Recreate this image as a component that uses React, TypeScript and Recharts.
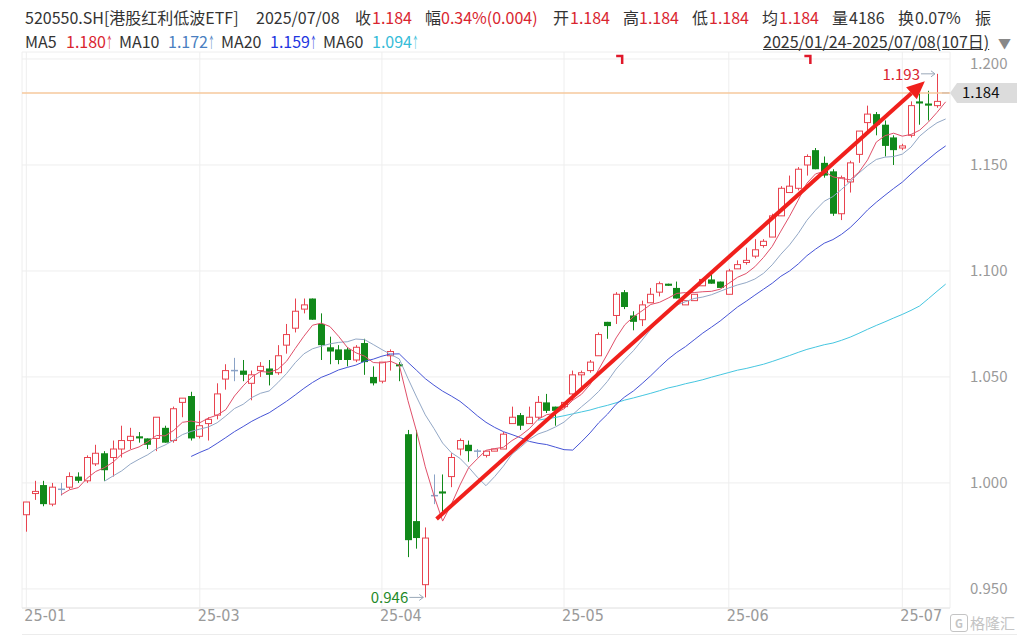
import React from "react";
import {
  ComposedChart,
  Bar,
  Line,
  XAxis,
  YAxis,
  CartesianGrid,
  ReferenceLine,
  ReferenceDot,
} from "recharts";

// 2025/01/24 - 2025/07/08, 107 trading days
const opens = [
  0.985, 0.995, 0.999, 0.99, 0.997, 0.998, 1.003, 1.001, 1.009, 1.014,
  1.012, 1.016, 1.02, 1.022, 1.021, 1.021, 1.026, 1.02, 1.038, 1.041,
  1.022, 1.028, 1.032, 1.049, 1.053, 1.053, 1.047, 1.053, 1.054, 1.052,
  1.065, 1.073, 1.082, 1.087, 1.075, 1.064, 1.063, 1.063, 1.058, 1.066,
  1.05, 1.048, 1.06, 1.056, 1.023, 0.982, 0.952, 0.994, 0.996, 1.003,
  1.016, 1.018, 1.015, 1.013, 1.015, 1.016, 1.028, 1.032, 1.028, 1.031,
  1.038, 1.036, 1.036, 1.042, 1.051, 1.053, 1.06, 1.076, 1.079, 1.09,
  1.079, 1.077, 1.085, 1.09, 1.094, 1.092, 1.084, 1.086, 1.093, 1.096,
  1.095, 1.089, 1.101, 1.104, 1.107, 1.112, 1.116, 1.126, 1.137, 1.139,
  1.15, 1.157, 1.151, 1.147, 1.127, 1.142, 1.155, 1.17, 1.174, 1.169,
  1.163, 1.158, 1.164, 1.18, 1.179, 1.178, 1.184,
];
const highs = [
  0.991, 1.001, 1.001, 1.0, 1.0, 1.005, 1.005, 1.013, 1.018, 1.015,
  1.02, 1.027, 1.026, 1.024, 1.021, 1.031, 1.027, 1.036, 1.04, 1.043,
  1.034, 1.031, 1.047, 1.056, 1.059, 1.058, 1.053, 1.057, 1.058, 1.065,
  1.075, 1.087, 1.087, 1.087, 1.08, 1.069, 1.065, 1.064, 1.065, 1.068,
  1.055, 1.057, 1.063, 1.057, 1.025, 1.025, 0.979, 1.004, 1.004, 1.014,
  1.021, 1.02, 1.016, 1.015, 1.016, 1.024, 1.036, 1.033, 1.036, 1.041,
  1.042, 1.036, 1.038, 1.053, 1.053, 1.058, 1.071, 1.076, 1.09, 1.091,
  1.081, 1.086, 1.092, 1.095, 1.094, 1.095, 1.086, 1.089, 1.096, 1.1,
  1.095, 1.101, 1.105, 1.111, 1.115, 1.115, 1.127, 1.14, 1.145, 1.149,
  1.155, 1.158, 1.154, 1.148, 1.145, 1.152, 1.166, 1.178, 1.175, 1.171,
  1.164, 1.16, 1.18, 1.184, 1.185, 1.193, 1.184,
];
const lows = [
  0.977, 0.992, 0.989, 0.989, 0.994, 0.997, 1.0, 1.0, 1.008, 1.001,
  1.003, 1.012, 1.016, 1.019, 1.016, 1.015, 1.019, 1.019, 1.031, 1.02,
  1.021, 1.02, 1.03, 1.044, 1.048, 1.048, 1.039, 1.05, 1.046, 1.051,
  1.061, 1.071, 1.08, 1.077, 1.058, 1.056, 1.056, 1.055, 1.057, 1.051,
  1.046, 1.047, 1.053, 1.048, 0.965, 0.969, 0.946, 0.99, 0.986, 0.998,
  1.013, 1.01, 1.012, 1.012, 1.015, 1.016, 1.028, 1.025, 1.028, 1.03,
  1.033, 1.027, 1.035, 1.039, 1.044, 1.052, 1.06, 1.068, 1.075, 1.082,
  1.072, 1.074, 1.085, 1.088, 1.093, 1.087, 1.084, 1.086, 1.093, 1.094,
  1.092, 1.089, 1.101, 1.103, 1.106, 1.111, 1.116, 1.126, 1.137, 1.138,
  1.145, 1.148, 1.144, 1.126, 1.124, 1.137, 1.151, 1.166, 1.164, 1.154,
  1.15, 1.157, 1.163, 1.169, 1.171, 1.177, 1.184,
];
const closes = [
  0.991, 0.996, 0.99, 0.998, 0.997, 1.003, 1.001, 1.012, 1.014, 1.006,
  1.016, 1.02, 1.022, 1.021, 1.018, 1.031, 1.019, 1.035, 1.04, 1.021,
  1.027, 1.03, 1.042, 1.053, 1.053, 1.051, 1.051, 1.055, 1.051, 1.06,
  1.07, 1.081, 1.084, 1.077, 1.065, 1.062, 1.058, 1.058, 1.064, 1.057,
  1.047, 1.057, 1.062, 1.055, 0.973, 0.974, 0.974, 0.994, 0.995, 1.012,
  1.02, 1.015, 1.015, 1.015, 1.016, 1.023, 1.031, 1.027, 1.031, 1.038,
  1.034, 1.034, 1.038, 1.051, 1.052, 1.057, 1.07, 1.074, 1.089, 1.083,
  1.076, 1.084, 1.089, 1.094, 1.093, 1.087, 1.086, 1.089, 1.096, 1.094,
  1.092, 1.1, 1.103, 1.105, 1.11, 1.114, 1.126, 1.139, 1.14, 1.148,
  1.154, 1.148, 1.145, 1.127, 1.144, 1.151, 1.166, 1.174, 1.169, 1.159,
  1.157, 1.159, 1.178, 1.179, 1.178, 1.18, 1.184,
];

const monthTicks = [0, 20, 41, 62, 81, 101];
const monthLabels = ["25-01", "25-03", "25-04", "25-05", "25-06", "25-07"];
const priceTicks = [0.95, 1.0, 1.05, 1.1, 1.15, 1.2];
const lastPrice = 1.184;
const highPoint = { i: 105, p: 1.193 };
const lowPoint = { i: 46, p: 0.946 };
const eventMarks = [68.7, 90.4];
const trendFrom = { i: 47.3, p: 0.983 };
const trendTo = { i: 103.6, p: 1.1895 };

const RED = "#e8434f";
const GREEN = "#11891a";
const FLAT = "#8aa2c6";

function movingAvg(n: number) {
  return closes.map((_, i) => {
    if (i < n - 1) return null;
    let s = 0;
    for (let k = i - n + 1; k <= i; k++) s += closes[k];
    return +(s / n).toFixed(4);
  });
}

const ma5 = movingAvg(5);
const ma10 = movingAvg(10);
const ma20 = movingAvg(20);
const ma60 = movingAvg(60);

const data = closes.map((c, i) => ({
  i,
  o: opens[i],
  h: highs[i],
  l: lows[i],
  c,
  range: [lows[i], highs[i]],
  ma5: ma5[i],
  ma10: ma10[i],
  ma20: ma20[i],
  ma60: ma60[i],
}));

function Candle(props: any) {
  const { x, width, payload } = props;
  let { y, height } = props;
  if (height < 0) {
    y = y + height;
    height = -height;
  }
  const { o, h, l, c } = payload;
  const span = h - l;
  const toY = (v: number) => (span > 0 ? y + ((h - v) / span) * height : y);
  const left = Math.round(x + width / 2 - 3.5);
  const mid = left + 3.5;
  const color = c > o ? RED : c < o ? GREEN : FLAT;
  const top = toY(Math.max(o, c));
  const bot = toY(Math.min(o, c));
  const wick = (
    <line x1={mid} x2={mid} y1={toY(h)} y2={toY(l)} stroke={color} strokeWidth={1} />
  );
  if (c === o) {
    return (
      <g>
        {wick}
        <line x1={left} x2={left + 7} y1={top} y2={top} stroke={color} strokeWidth={1.5} />
      </g>
    );
  }
  if (c > o) {
    return (
      <g>
        {wick}
        <rect
          x={left + 0.5}
          y={top}
          width={6}
          height={Math.max(bot - top, 1)}
          fill="#fff"
          stroke={color}
          strokeWidth={1}
        />
      </g>
    );
  }
  return (
    <g>
      {wick}
      <rect x={left} y={top} width={7} height={Math.max(bot - top, 1.5)} fill={color} />
    </g>
  );
}

function TrendArrow(props: any) {
  const { x1, y1, x2, y2 } = props;
  const ang = Math.atan2(y2 - y1, x2 - x1);
  const len = 18;
  const half = 8;
  const bx = x2 - len * Math.cos(ang);
  const by = y2 - len * Math.sin(ang);
  const px = -Math.sin(ang) * half;
  const py = Math.cos(ang) * half;
  return (
    <g>
      <line x1={x1} y1={y1} x2={bx} y2={by} stroke="#f0201c" strokeWidth={4} />
      <polygon
        points={`${x2},${y2} ${bx + px},${by + py} ${bx - px},${by - py}`}
        fill="#f0201c"
      />
    </g>
  );
}

function ExtremeTag(color: string, text: string) {
  return (props: any) => {
    const { cx, cy } = props;
    return (
      <g>
        <line x1={cx - 16} x2={cx - 2} y1={cy} y2={cy} stroke="#9aa8b8" strokeWidth={1} />
        <polyline
          points={`${cx - 6},${cy - 3} ${cx - 2},${cy} ${cx - 6},${cy + 3}`}
          fill="none"
          stroke="#9aa8b8"
          strokeWidth={1}
        />
        <text x={cx - 17} y={cy + 6} textAnchor="end" fill={color} fontSize={15}>
          {text}
        </text>
      </g>
    );
  };
}

function EventMark(props: any) {
  const { cx, cy } = props;
  return (
    <path
      d={`M${cx - 6} ${cy - 3} H${cx} V${cy + 5}`}
      fill="none"
      stroke="#e0182a"
      strokeWidth={2.5}
    />
  );
}

function PriceTag(props: any) {
  const { viewBox } = props;
  const y = viewBox.y;
  const x = viewBox.x + viewBox.width;
  return (
    <g>
      <polygon
        points={`${x},${y} ${x + 7},${y - 10} ${x + 67},${y - 10} ${x + 67},${y + 10} ${x + 7},${y + 10}`}
        fill="#dcdcdc"
      />
      <text x={x + 12} y={y + 5} fontSize={15} fill="#111">
        {lastPrice.toFixed(3)}
      </text>
    </g>
  );
}

function MonthTick(props: any) {
  const { x, y, payload } = props;
  const idx = monthTicks.indexOf(payload.value);
  return (
    <text
      x={x - 2}
      y={y + 5}
      fill="#9a9a9a"
      fontSize={16}
      fontFamily="'Liberation Sans Narrow', 'DejaVu Sans Condensed', sans-serif"
      textAnchor="start"
    >
      {monthLabels[idx]}
    </text>
  );
}

function PriceTick(props: any) {
  const { x, y, payload } = props;
  const yy = payload.value >= 1.2 ? y + 5 : y;
  return (
    <text x={x} y={yy + 5} fill="#9a9a9a" fontSize={15} textAnchor="start">
      {payload.value.toFixed(3)}
    </text>
  );
}

const headerLine1: [string, number, string][] = [
  ["520550.SH[港股红利低波ETF]", 25, "#333"],
  ["2025/07/08", 256, "#333"],
  ["收", 355, "#333"],
  ["1.184", 372, "#d9252f"],
  ["幅", 425, "#333"],
  ["0.34%(0.004)", 441, "#d9252f"],
  ["开", 553, "#333"],
  ["1.184", 570, "#d9252f"],
  ["高", 623, "#333"],
  ["1.184", 639, "#d9252f"],
  ["低", 692, "#333"],
  ["1.184", 709, "#d9252f"],
  ["均", 762, "#333"],
  ["1.184", 779, "#d9252f"],
  ["量", 832, "#333"],
  ["4186", 849, "#333"],
  ["换", 898, "#333"],
  ["0.07%", 915, "#333"],
  ["振", 975, "#333"],
];

const headerLine2: [string, number, string, boolean][] = [
  ["MA5", 25, "#333", false],
  ["1.180", 66, "#d9252f", true],
  ["MA10", 119, "#333", false],
  ["1.172", 168, "#4a7fc1", true],
  ["MA20", 221, "#333", false],
  ["1.159", 270, "#2236e0", true],
  ["MA60", 323, "#333", false],
  ["1.094", 372, "#36bcd8", true],
];

export default function App() {
  return (
    <div
      style={{
        position: "absolute",
        left: 0,
        top: 0,
        width: 1017,
        height: 641,
        background: "#fff",
        overflow: "hidden",
        fontFamily: "'Noto Sans CJK SC', 'Noto Sans', sans-serif",
      }}
    >
      {headerLine1.map(([t, x, col], k) => (
        <span
          key={"a" + k}
          style={{ position: "absolute", left: x, top: 6, fontSize: 16, lineHeight: "22px", color: col, whiteSpace: "nowrap" }}
        >
          {t}
        </span>
      ))}
      {headerLine2.map(([t, x, col, up], k) => (
        <span
          key={"b" + k}
          style={{ position: "absolute", left: x, top: 30, fontSize: 16, lineHeight: "22px", color: col, whiteSpace: "nowrap" }}
        >
          {t}
          {up && (
            <span
              style={{
                display: "inline-block",
                transform: "scaleX(0.45)",
                transformOrigin: "left center",
                fontSize: 15,
                width: 6,
              }}
            >
              ↑
            </span>
          )}
        </span>
      ))}
      <span
        style={{
          position: "absolute",
          left: 763,
          top: 30,
          fontSize: 16,
          lineHeight: "22px",
          color: "#333",
          textDecoration: "underline",
          whiteSpace: "nowrap",
        }}
      >
        2025/01/24-2025/07/08(107日)
      </span>
      <span style={{ position: "absolute", left: 998, top: 33, fontSize: 13, color: "#888" }}>▼</span>

      <div style={{ position: "absolute", left: 0, top: 0 }}>
        <ComposedChart
          width={1017}
          height={641}
          data={data}
          margin={{ top: 52, right: 0, bottom: 0, left: 22 }}
        >
          <CartesianGrid stroke="#eeeeee" />
          <XAxis
            dataKey="i"
            type="number"
            domain={[-0.5, 106.5]}
            ticks={monthTicks}
            allowDataOverflow
            height={33}
            tickLine={false}
            axisLine={{ stroke: "#e6e6e6" }}
            tick={<MonthTick />}
            interval={0}
          />
          <YAxis
            orientation="right"
            type="number"
            domain={[0.941, 1.2033]}
            ticks={priceTicks}
            allowDataOverflow
            width={67}
            tickLine={false}
            axisLine={false}
            tickSize={0}
            tickMargin={20}
            tick={<PriceTick />}
          />
          <ReferenceLine
            y={lastPrice}
            stroke="#f6c89c"
            strokeWidth={1.5}
            label={<PriceTag />}
            ifOverflow="visible"
          />
          <Bar dataKey="range" barSize={7} shape={<Candle />} isAnimationActive={false} />
          <Line type="linear" dataKey="ma60" stroke="#45c6e0" strokeWidth={1} dot={false} isAnimationActive={false} />
          <Line type="linear" dataKey="ma20" stroke="#4654d6" strokeWidth={1} dot={false} isAnimationActive={false} />
          <Line type="linear" dataKey="ma10" stroke="#93a8c6" strokeWidth={1} dot={false} isAnimationActive={false} />
          <Line type="linear" dataKey="ma5" stroke="#e0506a" strokeWidth={1} dot={false} isAnimationActive={false} />
          <ReferenceLine
            segment={[
              { x: trendFrom.i, y: trendFrom.p },
              { x: trendTo.i, y: trendTo.p },
            ]}
            shape={<TrendArrow />}
            ifOverflow="visible"
          />
          <ReferenceDot
            x={highPoint.i}
            y={highPoint.p}
            shape={ExtremeTag("#d9252f", highPoint.p.toFixed(3))}
            ifOverflow="visible"
          />
          <ReferenceDot
            x={lowPoint.i}
            y={lowPoint.p}
            shape={ExtremeTag("#1f8a2a", lowPoint.p.toFixed(3))}
            ifOverflow="visible"
          />
          {eventMarks.map((m) => (
            <ReferenceDot key={m} x={m} y={1.2} shape={<EventMark />} ifOverflow="visible" />
          ))}
        </ComposedChart>
      </div>

      <div style={{ position: "absolute", left: 22, top: 634, width: 995, borderTop: "1px solid #ececec" }} />
      <div
        style={{
          position: "absolute",
          left: 950,
          top: 612,
          display: "flex",
          alignItems: "center",
          gap: 2,
          color: "#c4c4c4",
          fontSize: 15,
          lineHeight: "22px",
          whiteSpace: "nowrap",
          background: "rgba(255,255,255,0.6)",
        }}
      >
        <span
          style={{
            display: "inline-block",
            width: 16,
            height: 16,
            border: "1.5px solid #c4c4c4",
            borderRadius: 3,
            fontSize: 11,
            lineHeight: "16px",
            textAlign: "center",
            fontWeight: 700,
          }}
        >
          G
        </span>
        <span>格隆汇</span>
      </div>
    </div>
  );
}
